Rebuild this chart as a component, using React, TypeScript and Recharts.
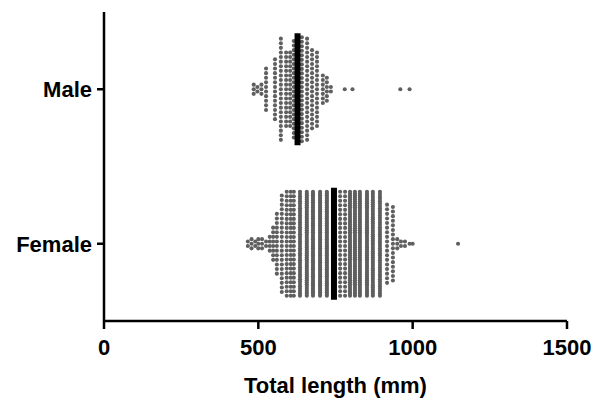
import type { ReactElement } from "react";
import { ScatterChart, Scatter, XAxis, YAxis } from "recharts";

// categories on the vertical axis (bottom to top) and their band centres
const categories = ["Female", "Male"];
const categoryPos = [0.5, 1.5];
const xTicks = [0, 500, 1000, 1500];

// male: total length (mm) per stacked column, and how many fish in each
const maleValues = [485, 497, 510, 525, 554, 573, 590, 603, 615, 628, 641, 658, 674, 690, 709, 722, 735, 780, 805, 960, 990];
const maleCounts = [3, 2, 3, 10, 14, 23, 17, 17, 22, 24, 24, 23, 18, 17, 7, 6, 2, 1, 1, 1, 1];
const maleMean = 627;

// female
const femaleValues = [466, 478, 490, 500, 512, 525, 537, 548, 560, 576, 592, 605, 615, 635, 657, 677, 700, 722, 745, 765, 781, 797, 813, 829, 852, 871, 894, 917, 936, 950, 962, 975, 990, 1000, 1147];
const femaleCounts = [2, 3, 2, 3, 3, 2, 4, 8, 14, 22, 24, 24, 24, 45, 55, 60, 60, 60, 60, 24, 24, 55, 55, 55, 55, 50, 45, 18, 17, 3, 2, 2, 1, 1, 1];
const femaleMean = 745;

const FONT = "Arial, 'Liberation Sans', sans-serif";
const W = 599;
const H = 403;
const PLOT_TOP = 12;
const PLOT_H = 309;
const UNIT = 2 / PLOT_H; // y units per pixel
const DOT_GAP = 4.6; // px between stacked dots
const MAX_SPAN = 104; // px, tallest stack

type Pt = { x: number; y: number };

// stack each column of equal values around the category centre
function swarm(values: number[], counts: number[], center: number): Pt[] {
  const pts: Pt[] = [];
  values.forEach((v, i) => {
    const n = counts[i];
    const step = n > 1 ? Math.min(DOT_GAP, MAX_SPAN / (n - 1)) : 0;
    for (let k = 0; k < n; k++) {
      pts.push({ x: v, y: center + (k - (n - 1) / 2) * step * UNIT });
    }
  });
  return pts;
}

const maleData = swarm(maleValues, maleCounts, categoryPos[1]);
const femaleData = swarm(femaleValues, femaleCounts, categoryPos[0]);
const barHalf = (MAX_SPAN / 2 + 4) * UNIT;
const maleBar = [
  { x: maleMean, y: categoryPos[1] - barHalf },
  { x: maleMean, y: categoryPos[1] + barHalf },
];
const femaleBar = [
  { x: femaleMean, y: categoryPos[0] - barHalf },
  { x: femaleMean, y: categoryPos[0] + barHalf },
];

const Dot = (props: { cx?: number; cy?: number }): ReactElement => (
  <circle cx={props.cx} cy={props.cy} r={2.05} fill="#5f5f5f" />
);
const NoDot = (): ReactElement => <g />;

export default function App(): ReactElement {
  const axisStroke = { stroke: "#000", strokeWidth: 2.5 };
  const barLine = { stroke: "#000", strokeWidth: 6 };
  return (
    <div style={{ position: "absolute", left: 0, top: 0, width: W, height: H, background: "#fff" }}>
      <ScatterChart width={W} height={H} margin={{ top: PLOT_TOP, right: 32, bottom: 0, left: 0 }}>
        <XAxis
          type="number"
          dataKey="x"
          domain={[0, 1500]}
          ticks={xTicks}
          height={H - PLOT_TOP - PLOT_H}
          axisLine={axisStroke}
          tickLine={axisStroke}
          tickSize={8}
          tickMargin={10}
          tick={{ fill: "#000", fontSize: 22, fontWeight: "bold", fontFamily: FONT }}
          label={{
            value: "Total length (mm)",
            position: "insideBottom",
            offset: 10,
            fill: "#000",
            fontSize: 22,
            fontWeight: "bold",
            fontFamily: FONT,
          }}
        />
        <YAxis
          type="number"
          dataKey="y"
          domain={[0, 2]}
          ticks={categoryPos}
          width={104}
          axisLine={axisStroke}
          tickLine={axisStroke}
          tickSize={7}
          tickMargin={5}
          tickFormatter={(v: number) => categories[categoryPos.indexOf(v)] ?? ""}
          tick={{ fill: "#000", fontSize: 22, fontWeight: "bold", fontFamily: FONT }}
        />
        <Scatter data={maleData} shape={Dot} isAnimationActive={false} />
        <Scatter data={femaleData} shape={Dot} isAnimationActive={false} />
        <Scatter data={maleBar} shape={NoDot} line={barLine} isAnimationActive={false} />
        <Scatter data={femaleBar} shape={NoDot} line={barLine} isAnimationActive={false} />
      </ScatterChart>
    </div>
  );
}
